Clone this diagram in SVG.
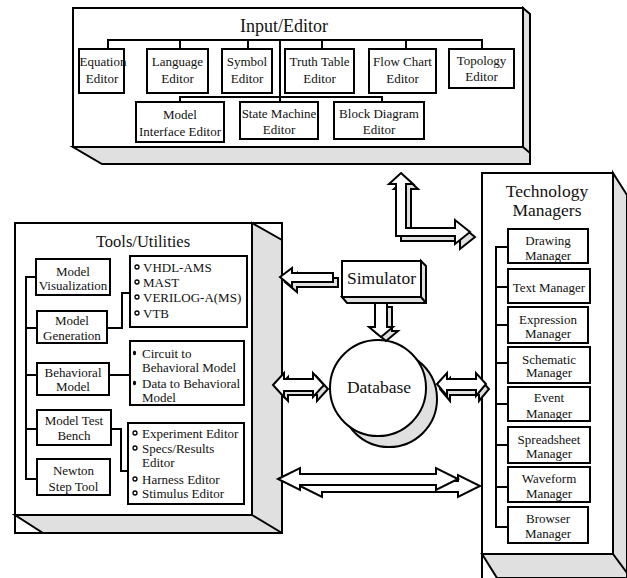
<svg xmlns="http://www.w3.org/2000/svg" width="627" height="578" viewBox="0 0 627 578">
<style>
.box{fill:#fff;stroke:#000;stroke-width:2}
.ln{fill:none;stroke:#000;stroke-width:2}
.sh{fill:#e0e0e0;stroke:#000;stroke-width:2;stroke-linejoin:miter}
.wh{fill:#fff;stroke:#000;stroke-width:2;stroke-linejoin:miter}
text{font-family:"Liberation Serif","Times New Roman",serif;fill:#111;text-anchor:middle}
.s{font-size:13px}
.l{font-size:13px;text-anchor:start}
.b{font-size:17.5px}
.bul{fill:#fff;stroke:#000;stroke-width:1.3}
.dot{fill:#000;stroke:none}
</style>
<rect width="627" height="578" fill="#fff"/>

<!-- Input/Editor -->
<g id="input-editor">
<polygon class="sh" points="523,8 530,14 530,164 102,164 73,147 523,147"/>
<rect class="box" x="73" y="8" width="450" height="139"/>
<line class="ln" x1="523" y1="147" x2="530" y2="153"/>
<text class="b" x="284" y="32" style="font-size:18px">Input/Editor</text>
<path class="ln" d="M108,49 V40 H482 V49 M180,40 V49 M248,40 V49 M322,40 V49 M406,40 V49 M280,40 V102 M180,102 V97 H382 V102"/>
</g>
<g id="equation-editor"><rect class="box" x="79" y="49" width="45" height="44"/><text class="s" x="103" y="66">Equation</text><text class="s" x="102" y="83">Editor</text></g>
<g id="language-editor"><rect class="box" x="147" y="49" width="61" height="44"/><text class="s" x="177.5" y="66">Language</text><text class="s" x="177.5" y="83">Editor</text></g>
<g id="symbol-editor"><rect class="box" x="222" y="49" width="50" height="44"/><text class="s" x="247" y="66">Symbol</text><text class="s" x="247" y="83">Editor</text></g>
<g id="truth-table-editor"><rect class="box" x="285" y="49" width="69" height="44"/><text class="s" x="319.5" y="66">Truth Table</text><text class="s" x="319.5" y="83">Editor</text></g>
<g id="flow-chart-editor"><rect class="box" x="369" y="49" width="67" height="44"/><text class="s" x="402.5" y="66">Flow Chart</text><text class="s" x="402.5" y="83">Editor</text></g>
<g id="topology-editor"><rect class="box" x="449" y="49" width="65" height="39"/><text class="s" x="481.5" y="65">Topology</text><text class="s" x="481.5" y="81">Editor</text></g>
<g id="model-interface-editor"><rect class="box" x="136" y="102" width="88" height="40"/><text class="s" x="180" y="119">Model</text><text class="s" x="180" y="136">Interface Editor</text></g>
<g id="state-machine-editor"><rect class="box" x="240" y="102" width="78" height="37"/><text class="s" x="279" y="118">State Machine</text><text class="s" x="279" y="134">Editor</text></g>
<g id="block-diagram-editor"><rect class="box" x="334" y="102" width="90" height="37"/><text class="s" x="379" y="118">Block Diagram</text><text class="s" x="379" y="134">Editor</text></g>

<!-- Tools/Utilities -->
<g id="tools-utilities">
<polygon class="sh" points="252,223 282,240 282,533 43,533 15,515 252,515"/>
<rect class="ln" x="15" y="223" width="267" height="310"/>
<rect class="box" x="15" y="223" width="237" height="292"/>
<line class="ln" x1="252" y1="515" x2="282" y2="533"/>
<text class="b" x="143" y="247" style="font-size:16.5px">Tools/Utilities</text>
<path class="ln" d="M36,277 H26 V479 H37 M26,328 H37 M26,375 H37 M26,429 H37 M107,328 H122 V293 H130 M109,375 H130 M111,429 H121 V471 H128"/>
</g>
<g id="model-visualization"><rect class="box" x="36" y="259" width="74" height="36"/><text class="s" x="73" y="276">Model</text><text class="s" x="73" y="290">Visualization</text></g>
<g id="model-generation"><rect class="box" x="37" y="311" width="70" height="32"/><text class="s" x="72" y="324.5">Model</text><text class="s" x="72" y="340">Generation</text></g>
<g id="behavioral-model"><rect class="box" x="37" y="363" width="72" height="32"/><text class="s" x="73" y="376.5">Behavioral</text><text class="s" x="73" y="391">Model</text></g>
<g id="model-test-bench"><rect class="box" x="37" y="410" width="74" height="35"/><text class="s" x="74" y="425">Model Test</text><text class="s" x="74" y="440">Bench</text></g>
<g id="newton-step-tool"><rect class="box" x="37" y="459" width="73" height="36"/><text class="s" x="73.5" y="475">Newton</text><text class="s" x="73.5" y="491">Step Tool</text></g>
<g id="languages">
<rect class="box" x="130" y="256" width="117" height="71"/>
<circle class="bul" cx="137" cy="267" r="2"/><text class="l" x="143" y="271.5">VHDL-AMS</text>
<circle class="bul" cx="137" cy="282" r="2"/><text class="l" x="143" y="286.5">MAST</text>
<circle class="bul" cx="137" cy="297" r="2"/><text class="l" x="143" y="301.5">VERILOG-A(MS)</text>
<circle class="bul" cx="137" cy="313" r="2"/><text class="l" x="143" y="317.5">VTB</text>
</g>
<g id="behavioral-list">
<rect class="box" x="130" y="341" width="114" height="64"/>
<ellipse class="dot" cx="134.5" cy="353" rx="1.6" ry="2.3"/><text class="l" x="142" y="357.5">Circuit to</text>
<text class="l" x="142" y="371.5">Behavioral  Model</text>
<ellipse class="dot" cx="134.5" cy="383" rx="1.6" ry="2.3"/><text class="l" x="142" y="387.5">Data to Behavioral</text>
<text class="l" x="142" y="401.5">Model</text>
</g>
<g id="test-bench-list">
<rect class="box" x="128" y="423" width="116" height="81"/>
<circle class="bul" cx="135" cy="433" r="2"/><text class="l" x="142" y="437.5">Experiment Editor</text>
<circle class="bul" cx="135" cy="448" r="2"/><text class="l" x="142" y="452.5">Specs/Results</text>
<text class="l" x="142" y="467">Editor</text>
<circle class="bul" cx="135" cy="479" r="2"/><text class="l" x="142" y="483.5">Harness Editor</text>
<circle class="bul" cx="135" cy="493" r="2"/><text class="l" x="142" y="497.5">Stimulus Editor</text>
</g>

<!-- Technology Managers -->
<g id="technology-managers">
<polygon class="sh" points="613,173 627,195 627,578 497,578 482,554 613,554"/>
<line class="ln" x1="482" y1="554" x2="482" y2="578"/>
<rect class="box" x="482" y="173" width="131" height="381"/>
<line class="ln" x1="613" y1="554" x2="627" y2="573"/>
<text class="b" x="547" y="197">Technology</text>
<text class="b" x="547" y="216">Managers</text>
<path class="ln" d="M508,247 H496 V527 H508 M496,287 H508 M496,325 H508 M496,363 H508 M496,404 H508 M496,445 H508 M496,487 H508"/>
</g>
<g id="drawing-manager"><rect class="box" x="508" y="229" width="80" height="34"/><text class="s" x="548" y="244.5">Drawing</text><text class="s" x="548" y="259.5">Manager</text></g>
<g id="text-manager"><rect class="box" x="508" y="269" width="82" height="34"/><text class="s" x="549" y="291.5">Text Manager</text></g>
<g id="expression-manager"><rect class="box" x="508" y="307" width="80" height="36"/><text class="s" x="548" y="323.5">Expression</text><text class="s" x="548" y="337.5">Manager</text></g>
<g id="schematic-manager"><rect class="box" x="508" y="347" width="82" height="36"/><text class="s" x="549" y="363.5">Schematic</text><text class="s" x="549" y="377">Manager</text></g>
<g id="event-manager"><rect class="box" x="508" y="387" width="82" height="34"/><text class="s" x="549" y="401.5">Event</text><text class="s" x="549" y="417.5">Manager</text></g>
<g id="spreadsheet-manager"><rect class="box" x="508" y="427" width="82" height="36"/><text class="s" x="549" y="443.5">Spreadsheet</text><text class="s" x="549" y="457.5">Manager</text></g>
<g id="waveform-manager"><rect class="box" x="508" y="467" width="82" height="35"/><text class="s" x="549" y="482.5">Waveform</text><text class="s" x="549" y="497.5">Manager</text></g>
<g id="browser-manager"><rect class="box" x="508" y="507" width="80" height="36"/><text class="s" x="548" y="522.5">Browser</text><text class="s" x="548" y="537.5">Manager</text></g>

<!-- Simulator -->
<g id="simulator">
<polygon class="sh" points="421,261 426,266 426,303 347,303 342,297 421,297"/>
<rect class="box" x="342" y="261" width="79" height="36"/>
<line class="ln" x1="421" y1="297" x2="426" y2="303"/>
<text class="b" x="381.5" y="284">Simulator</text>
</g>

<!-- Database -->
<g id="database">
<circle class="sh" cx="389" cy="399" r="48"/>
<circle class="box" cx="378" cy="388" r="48"/>
<text class="b" x="379" y="393">Database</text>
</g>

<!-- Connectors: 3D block arrows -->
<g id="connectors">
<g transform="translate(5,5)"><polygon class="sh" points="401,173 413,184 406,184 406,228 455,228 455,220 470,232 455,244 455,236 396,236 396,184 389,184"/></g>
<polygon class="wh" points="401,173 413,184 406,184 406,228 455,228 455,220 470,232 455,244 455,236 396,236 396,184 389,184"/>

<g transform="translate(5,5)"><polygon class="sh" points="280,277 292,268 292,273 333,273 333,282 292,282 292,287"/></g>
<polygon class="wh" points="280,277 292,268 292,273 333,273 333,282 292,282 292,287"/>

<g transform="translate(5,4)"><polygon class="sh" points="375,303 387,303 387,327 393,327 381,337 369,327 375,327"/></g>
<polygon class="wh" points="375,303 387,303 387,327 393,327 381,337 369,327 375,327"/>

<g transform="translate(4,4)"><polygon class="sh" points="273,385 284,373 284,379 313,379 313,373 324,385 313,397 313,391 284,391 284,397"/></g>
<polygon class="wh" points="273,385 284,373 284,379 313,379 313,373 324,385 313,397 313,391 284,391 284,397"/>

<g transform="translate(3,5)"><polygon class="sh" points="437,384 447,373 447,379 476,379 476,373 486,384 476,396 476,390 447,390 447,396"/></g>
<polygon class="wh" points="437,384 447,373 447,379 476,379 476,373 486,384 476,396 476,390 447,390 447,396"/>

<g transform="translate(22,7)"><polygon class="wh" points="278,479 300,468 300,474 436,474 436,468 458,479 436,490 436,485 300,485 300,490"/></g>
<polygon class="wh" points="278,479 300,468 300,474 436,474 436,468 458,479 436,490 436,485 300,485 300,490"/>
</g>
</svg>
